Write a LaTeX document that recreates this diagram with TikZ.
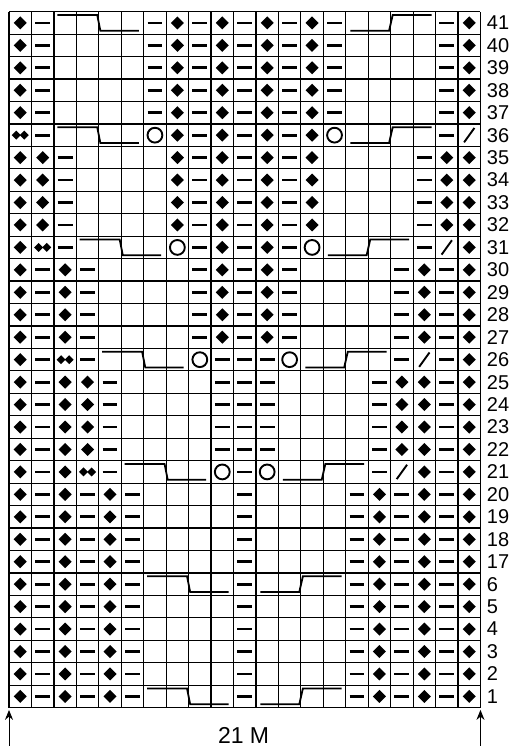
\documentclass[tikz,border=0pt]{standalone}
\usepackage{fontspec}
\setmainfont{Liberation Sans}
\usetikzlibrary{arrows.meta}
\newcommand\symK[1]{\fill (#1) ++(0,-0.29) -- ++(0.29,0.29) -- ++(-0.29,0.29) -- ++(-0.29,-0.29) -- cycle;}
\newcommand\symP[1]{\draw[line width=1.4pt] (#1) ++(-0.33,0) -- ++(0.66,0);}
\newcommand\symE[1]{}
\newcommand\symO[1]{\draw[line width=0.95pt] (#1) circle (0.33);}
\newcommand\symD[1]{\fill (#1) ++(-0.38,0) -- ++(0.2,0.2) -- ++(0.2,-0.2) -- ++(-0.2,-0.2) -- cycle;
  \fill (#1) ++(0.38,0) -- ++(-0.2,0.2) -- ++(-0.2,-0.2) -- ++(0.2,-0.2) -- cycle;}
\newcommand\symS[1]{\draw[line width=0.95pt] (#1) ++(-0.23,-0.32) -- ++(0.46,0.64);}
\newcommand\cableL[2]{\draw[cable] (#1+0.15,#2-0.15) -- (#1+1.93,#2-0.15) -- (#1+2.07,#2-0.85) -- (#1+3.78,#2-0.85);}
\newcommand\cableR[2]{\draw[cable] (#1+0.2,#2-0.85) -- (#1+1.93,#2-0.85) -- (#1+2.09,#2-0.15) -- (#1+3.82,#2-0.15);}
\begin{document}
\begin{tikzpicture}[x=11.225pt,y=11.225pt,
  gridline/.style={line width=0.6pt,black},
  cable/.style={line width=0.9pt,black},
  num/.style={anchor=west,inner sep=0pt,font=\fontsize{10}{12}\selectfont},
  lab/.style={inner sep=0pt,font=\fontsize{11.5}{13}\selectfont},
  arr/.style={line width=0.5pt,-{Stealth[length=5pt,width=4pt]}}]
\useasboundingbox (-0.401,-1.708) rectangle (22.227,31.521);
\foreach \k in {0,...,21} \draw[gridline] (\k,0) -- (\k,31);
\foreach \k in {0,...,31} \draw[gridline] (0,\k) -- (21,\k);
\foreach \r [count=\i from 0] in {
 {K,P,E,E,E,E,P,K,P,K,P,K,P,K,P,E,E,E,E,P,K},
 {K,P,E,E,E,E,P,K,P,K,P,K,P,K,P,E,E,E,E,P,K},
 {K,P,E,E,E,E,P,K,P,K,P,K,P,K,P,E,E,E,E,P,K},
 {K,P,E,E,E,E,P,K,P,K,P,K,P,K,P,E,E,E,E,P,K},
 {K,P,E,E,E,E,P,K,P,K,P,K,P,K,P,E,E,E,E,P,K},
 {D,P,E,E,E,E,O,K,P,K,P,K,P,K,O,E,E,E,E,P,S},
 {K,K,P,E,E,E,E,K,P,K,P,K,P,K,E,E,E,E,P,K,K},
 {K,K,P,E,E,E,E,K,P,K,P,K,P,K,E,E,E,E,P,K,K},
 {K,K,P,E,E,E,E,K,P,K,P,K,P,K,E,E,E,E,P,K,K},
 {K,K,P,E,E,E,E,K,P,K,P,K,P,K,E,E,E,E,P,K,K},
 {K,D,P,E,E,E,E,O,P,K,P,K,P,O,E,E,E,E,P,S,K},
 {K,P,K,P,E,E,E,E,P,K,P,K,P,E,E,E,E,P,K,P,K},
 {K,P,K,P,E,E,E,E,P,K,P,K,P,E,E,E,E,P,K,P,K},
 {K,P,K,P,E,E,E,E,P,K,P,K,P,E,E,E,E,P,K,P,K},
 {K,P,K,P,E,E,E,E,P,K,P,K,P,E,E,E,E,P,K,P,K},
 {K,P,D,P,E,E,E,E,O,P,P,P,O,E,E,E,E,P,S,P,K},
 {K,P,K,K,P,E,E,E,E,P,P,P,E,E,E,E,P,K,K,P,K},
 {K,P,K,K,P,E,E,E,E,P,P,P,E,E,E,E,P,K,K,P,K},
 {K,P,K,K,P,E,E,E,E,P,P,P,E,E,E,E,P,K,K,P,K},
 {K,P,K,K,P,E,E,E,E,P,P,P,E,E,E,E,P,K,K,P,K},
 {K,P,K,D,P,E,E,E,E,O,P,O,E,E,E,E,P,S,K,P,K},
 {K,P,K,P,K,P,E,E,E,E,P,E,E,E,E,P,K,P,K,P,K},
 {K,P,K,P,K,P,E,E,E,E,P,E,E,E,E,P,K,P,K,P,K},
 {K,P,K,P,K,P,E,E,E,E,P,E,E,E,E,P,K,P,K,P,K},
 {K,P,K,P,K,P,E,E,E,E,P,E,E,E,E,P,K,P,K,P,K},
 {K,P,K,P,K,P,E,E,E,E,P,E,E,E,E,P,K,P,K,P,K},
 {K,P,K,P,K,P,E,E,E,E,P,E,E,E,E,P,K,P,K,P,K},
 {K,P,K,P,K,P,E,E,E,E,P,E,E,E,E,P,K,P,K,P,K},
 {K,P,K,P,K,P,E,E,E,E,P,E,E,E,E,P,K,P,K,P,K},
 {K,P,K,P,K,P,E,E,E,E,P,E,E,E,E,P,K,P,K,P,K},
 {K,P,K,P,K,P,E,E,E,E,P,E,E,E,E,P,K,P,K,P,K}}
{
  \foreach \s [count=\c] in \r {\csname sym\s\endcsname{\c-0.5,30.5-\i}}
}
\cableL{2}{31}\cableR{15}{31}
\cableL{2}{26}\cableR{15}{26}
\cableL{3}{21}\cableR{14}{21}
\cableL{4}{16}\cableR{13}{16}
\cableL{5}{11}\cableR{12}{11}
\cableL{6}{6}\cableR{11}{6}
\cableL{6}{1}\cableR{11}{1}
\foreach \n [count=\i from 0] in {41,40,39,38,37,36,35,34,33,32,31,30,29,28,27,26,25,24,23,22,21,20,19,18,17,6,5,4,3,2,1}
  \node[num] (n\n) at (21.27,30.5-\i) {\n};
\coordinate (lb) at (0,-1.708);
\coordinate (lt) at (0,-0.1);
\coordinate (rb) at (21,-1.708);
\coordinate (rt) at (21,-0.1);
\draw[arr] (lb) -- (lt);
\draw[arr] (rb) -- (rt);
\node[lab] (width) at (10.45,-1.22) {21 M};
\end{tikzpicture}
\end{document}
